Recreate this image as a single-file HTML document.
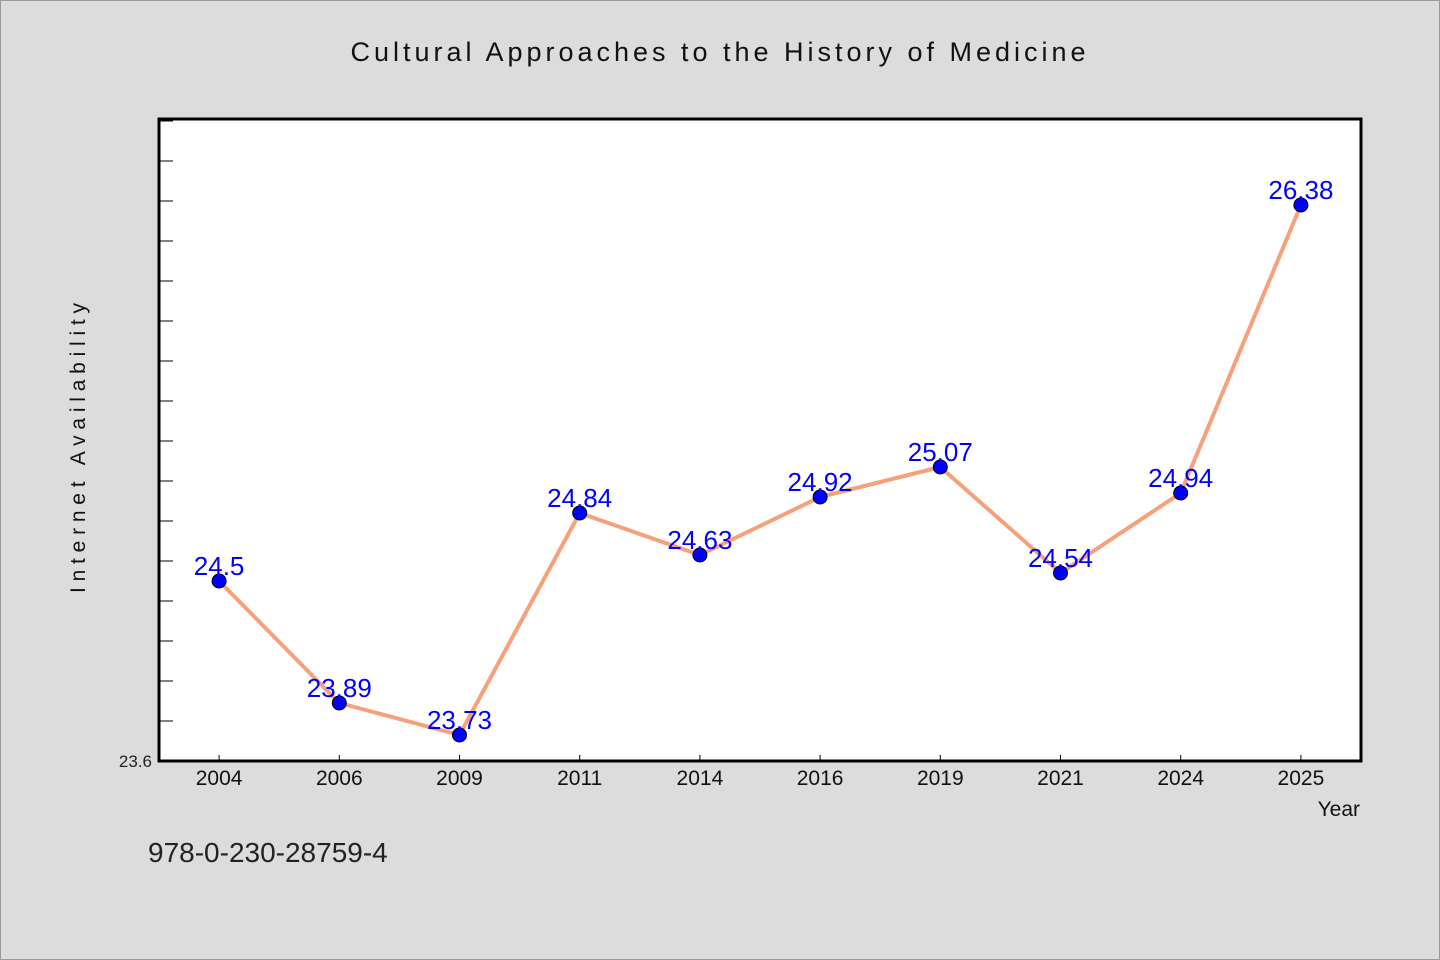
<!DOCTYPE html>
<html><head><meta charset="utf-8"><style>
html,body{margin:0;padding:0;background:#dcdcdc;}
svg{display:block;font-family:"WenQuanYi Zen Hei Mono","WenQuanYi Zen Hei","Liberation Sans",sans-serif;}
</style></head><body>
<svg id="c" width="1440" height="960" xmlns="http://www.w3.org/2000/svg">
<rect x="0.5" y="0.5" width="1439" height="959" fill="#dcdcdc" stroke="#999"/>
<text x="718" y="61" text-anchor="middle" font-size="27" textLength="735" fill="#111">Cultural Approaches to the History of Medicine</text>
<rect x="159" y="119" width="1202" height="642" fill="#fff" stroke="#000" stroke-width="3"/>
<g id="yt"></g><g id="xt"></g><g id="series"></g>
<text transform="translate(85,448) rotate(-90)" text-anchor="middle" font-size="21" textLength="290" fill="#111">Internet Availability</text>
<text x="1360" y="816" text-anchor="end" font-size="21" fill="#111">Year</text>
<text x="148" y="862" font-size="28" fill="#222">978-0-230-28759-4</text>
</svg>
<script>
const categories=["2004","2006","2009","2011","2014","2016","2019","2021","2024","2025"];
const values=[24.5,23.89,23.73,24.84,24.63,24.92,25.07,24.54,24.94,26.38];
const yMin=23.6, yMax=26.81;
const NS="http://www.w3.org/2000/svg";
const L=159,R=1361,T=119,B=761;
const band=(R-L)/categories.length;
const x=i=>L+band*(i+0.5);
const y=v=>B-(v-yMin)/(yMax-yMin)*(B-T);
function mk(tag,attrs,parent,txt){const e=document.createElementNS(NS,tag);for(const k in attrs)e.setAttribute(k,attrs[k]);if(txt!==undefined)e.textContent=txt;parent.appendChild(e);return e;}
const yt=document.getElementById('yt'),xt=document.getElementById('xt'),s=document.getElementById('series');
for(let v=yMin+0.2;v<yMax;v+=0.2){
 const e=mk('line',{x1:L,x2:L+14,y1:y(v),y2:y(v),stroke:'#000','stroke-width':1},yt);
 
 
}
const yl=mk('text',{x:152,y:B+6,'text-anchor':'end','font-size':17,fill:'#222'},yt,"23.6");


categories.forEach((c,i)=>{
 const t=mk('line',{x1:x(i),x2:x(i),y1:B,y2:B-6,stroke:'#000'},xt);
 
 
 const l=mk('text',{x:x(i),y:B+24,'text-anchor':'middle','font-size':21,fill:'#111'},xt,c);
 
 
});
const pl=mk('polyline',{points:values.map((v,i)=>x(i)+','+y(v)).join(' '),fill:'none',stroke:'#f7a07c','stroke-width':4,'stroke-linejoin':'round'},s);


values.forEach((v,i)=>{
 const p=mk('circle',{cx:x(i),cy:y(v),r:7,fill:'#0000ff',stroke:'#000','stroke-width':1},s);
 
 
 const t=mk('text',{x:x(i),y:y(v)-6,'text-anchor':'middle','font-size':26,fill:'#0000ff'},s,String(v));
 
 
});
</script>
</body></html>
